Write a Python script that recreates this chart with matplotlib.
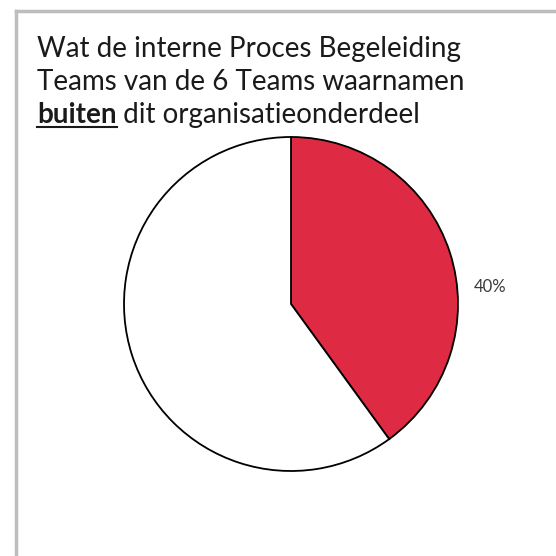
import matplotlib.pyplot as plt
from matplotlib.lines import Line2D

# data
labels = ['buiten', 'overig']
values = [40, 60]
colors = ['#DE2A42', 'white']
pct_label = '40%'

title_lines = ['Wat de interne Proces Begeleiding',
               'Teams van de 6 Teams waarnamen']
bold_word = 'buiten'
rest_line = ' dit organisatieonderdeel'

plt.rcParams['font.family'] = ['Lato', 'DejaVu Sans']

fig = plt.figure(figsize=(5.56, 5.56), dpi=100)

# gray frame: top and left edge only
fig.add_artist(Line2D([16/556, 16/556], [0, 1 - 11/556], transform=fig.transFigure,
                      color='#BDBDBD', lw=2.5))
fig.add_artist(Line2D([16/556, 1], [1 - 11/556, 1 - 11/556], transform=fig.transFigure,
                      color='#BDBDBD', lw=2.5))

cx, cy, r = 291/556, 1 - 304/556, 167/556
ax = fig.add_axes((cx - r, cy - r, 2*r, 2*r))
wedges, texts = ax.pie(values, colors=colors, startangle=90, counterclock=False,
                       wedgeprops=dict(edgecolor='black', linewidth=1.3),
                       labels=[pct_label, ''], labeldistance=1.15)
texts[0].set_position((1.19, 0.1))
texts[0].set_ha('center')
texts[0].set_va('center')
texts[0].set_fontsize(12)
texts[0].set_color('#3a3a3a')
ax.set_xlim(-1, 1)
ax.set_ylim(-1, 1)
ax.set_aspect('equal')

fs = 20
x0 = 37/556
for i, line in enumerate(title_lines):
    fig.text(x0, 1 - (57 + 33*i)/556, line, fontsize=fs, color='#1a1a1a', va='baseline')

yb = 1 - 123/556
tb = fig.text(x0, yb, bold_word, fontsize=fs, fontweight='bold', color='#1a1a1a', va='baseline')
fig.canvas.draw()
bb = tb.get_window_extent().transformed(fig.transFigure.inverted())
fig.text(bb.x1, yb, rest_line, fontsize=fs, color='#1a1a1a', va='baseline')
fig.add_artist(Line2D([x0, bb.x1], [yb - 4/556, yb - 4/556], transform=fig.transFigure,
                      color='#1a1a1a', lw=1.5))

fig.savefig('out.png', dpi=100)
